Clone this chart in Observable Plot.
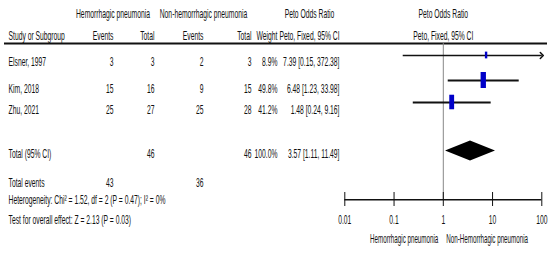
<!DOCTYPE html>
<html>
<head>
<meta charset="utf-8">
<script src="https://cdn.jsdelivr.net/npm/d3@7"></script>
<script src="https://cdn.jsdelivr.net/npm/@observablehq/plot@0.6"></script>
<style>
  html, body { margin: 0; padding: 0; background: #fff; }
  #chart { width: 550px; height: 253px; }
</style>
</head>
<body>
<div id="chart"></div>
<script>
// ---------- data ----------
const studies   = ["Elsner, 1997", "Kim, 2018", "Zhu, 2021"];
const hemEvents = [3, 15, 25];
const hemTotal  = [3, 16, 27];
const nonEvents = [2, 9, 25];
const nonTotal  = [3, 15, 28];
const weights   = [8.9, 49.8, 41.2];
const orEst     = [7.39, 6.48, 1.48];
const orLow     = [0.15, 1.23, 0.24];
const orHigh    = [372.38, 33.98, 9.16];

const totalLabel   = "Total (95% CI)";
const totalHem     = 46;
const totalNon     = 46;
const totalWeight  = 100.0;
const totalOR      = [3.57];
const totalLow     = [1.11];
const totalHigh    = [11.49];
const eventsLabel  = "Total events";
const eventsHem    = 43;
const eventsNon    = 36;
const heterogeneity = "Heterogeneity: Chi² = 1.52, df = 2 (P = 0.47); I² = 0%";
const overallEffect = "Test for overall effect: Z = 2.13 (P = 0.03)";

const groupHeaders = ["Hemorrhagic pneumonia", "Non-hemorrhagic pneumonia"];
const colHeaders   = ["Study or Subgroup", "Events", "Total", "Events", "Total", "Weight"];
const effectTitle  = "Peto Odds Ratio";
const effectSub    = "Peto, Fixed, 95% CI";
const tickValues   = [0.01, 0.1, 1, 10, 100];
const tickLabels   = ["0.01", "0.1", "1", "10", "100"];
const favourLabels = ["Hemorrhagic pneumonia", "Non-Hemorrhagic pneumonia"];

// ---------- layout (pixels) ----------
const COL = {study: 8, hemEv: 113, hemTot: 154, nonEv: 203, nonTot: 251, weight: 277, ci: 339,
             group1: 112.5, group2: 203, peto: 309};
const ROW = {h1: 13, h2: 35, rule: 43, text: [61, 88, 109], line: [55, 80, 102],
             total: 153, diamond: 150.5, events: 182.5, het: 199.5, test: 219,
             axis: 199.3, tickTop: 192, tickBot: 206, tickLabel: 219.5, favour: 238.5};
const SQUEEZE = 0.52;
const INK = "#111";

const idx = studies.map((_, i) => i);
const fmt2 = v => v.toFixed(2);
const ciText = (e, l, h) => `${fmt2(e)} [${fmt2(l)}, ${fmt2(h)}]`;

function col(dx, y, text, anchor, extra = {}) {
  return Plot.text(Array.isArray(y) ? idx : [0], {
    y: Array.isArray(y) ? (i => y[i]) : (() => y),
    text: Array.isArray(y) ? (i => text[i]) : (() => text),
    frameAnchor: "left", dx, textAnchor: anchor, fill: INK, ...extra
  });
}

const diamond = [
  {y: ROW.diamond - 10, x1: totalOR[0], x2: totalOR[0]},
  {y: ROW.diamond,      x1: totalLow[0], x2: totalHigh[0]},
  {y: ROW.diamond + 10, x1: totalOR[0], x2: totalOR[0]}
];

const boxH = i => 16 * Math.sqrt(weights[i] / 49.8);

const chart = Plot.plot({
  width: 550, height: 253, margin: 0,
  x: {type: "log", domain: [0.01, 100], range: [344.3, 541.3], clamp: true, axis: null},
  y: {type: "linear", domain: [0, 253], range: [0, 253], axis: null},
  style: {fontFamily: "'Liberation Sans', Arial, sans-serif", fontSize: "13px", color: INK, background: "#fff"},
  marks: [
    // headers
    col(COL.group1, ROW.h1, groupHeaders[0], "middle"),
    col(COL.group2, ROW.h1, groupHeaders[1], "middle"),
    col(COL.peto, ROW.h1, effectTitle, "middle"),
    Plot.text([1], {x: d => d, y: () => ROW.h1, text: () => effectTitle, fill: INK}),
    col(COL.study, ROW.h2, colHeaders[0], "start"),
    col(COL.hemEv, ROW.h2, colHeaders[1], "end"),
    col(COL.hemTot, ROW.h2, colHeaders[2], "end"),
    col(COL.nonEv, ROW.h2, colHeaders[3], "end"),
    col(COL.nonTot, ROW.h2, colHeaders[4], "end"),
    col(COL.weight, ROW.h2, colHeaders[5], "end"),
    col(COL.peto, ROW.h2, effectSub, "middle"),
    Plot.text([1], {x: d => d, y: () => ROW.h2, text: () => effectSub, fill: INK}),
    Plot.ruleY([ROW.rule], {y: d => d, insetLeft: 4, insetRight: 3, strokeWidth: 2, stroke: "#111"}),

    // study rows
    col(COL.study, ROW.text, studies, "start"),
    col(COL.hemEv, ROW.text, hemEvents.map(String), "end"),
    col(COL.hemTot, ROW.text, hemTotal.map(String), "end"),
    col(COL.nonEv, ROW.text, nonEvents.map(String), "end"),
    col(COL.nonTot, ROW.text, nonTotal.map(String), "end"),
    col(COL.weight, ROW.text, weights.map(w => w.toFixed(1) + "%"), "end"),
    col(COL.ci, ROW.text, idx.map(i => ciText(orEst[i], orLow[i], orHigh[i])), "end"),

    // totals
    col(COL.study, ROW.total, totalLabel, "start"),
    col(COL.hemTot, ROW.total, String(totalHem), "end"),
    col(COL.nonTot, ROW.total, String(totalNon), "end"),
    col(COL.weight, ROW.total, totalWeight.toFixed(1) + "%", "end"),
    col(COL.ci, ROW.total, ciText(totalOR[0], totalLow[0], totalHigh[0]), "end"),
    col(COL.study, ROW.events, eventsLabel, "start"),
    col(COL.hemEv, ROW.events, String(eventsHem), "end"),
    col(COL.nonEv, ROW.events, String(eventsNon), "end"),
    col(COL.study, ROW.het, heterogeneity, "start"),
    col(COL.study, ROW.test, overallEffect, "start"),

    // forest plot
    Plot.ruleX([1], {x: d => d, y1: ROW.rule, y2: ROW.axis, stroke: "#888", strokeWidth: 1}),
    Plot.link(idx.filter(i => orHigh[i] <= 100), {
      x1: i => orLow[i], x2: i => orHigh[i], y1: i => ROW.line[i], y2: i => ROW.line[i],
      stroke: "#111", strokeWidth: 1.8
    }),
    Plot.link(idx.filter(i => orHigh[i] > 100), {
      x1: i => orLow[i], x2: i => orHigh[i], y1: i => ROW.line[i], y2: i => ROW.line[i],
      stroke: "#111", strokeWidth: 1.5, markerEnd: "arrow"
    }),
    Plot.ruleX(idx, {
      x: i => orEst[i], y1: i => ROW.line[i] - boxH(i) / 2, y2: i => ROW.line[i] + boxH(i) / 2,
      strokeWidth: i => Math.max(boxH(i) / 3, 2.4), stroke: "#0000c8"
    }),
    Plot.areaX(diamond, {y: "y", x1: "x1", x2: "x2", fill: "#000", curve: "linear"}),

    // axis
    Plot.ruleY([ROW.axis], {y: d => d, x1: tickValues[0], x2: tickValues[tickValues.length - 1], stroke: "#111", strokeWidth: 1.6}),
    Plot.ruleX(tickValues, {x: d => d, y1: ROW.tickTop, y2: ROW.tickBot, stroke: "#111", strokeWidth: 1}),
    Plot.text(tickValues, {x: d => d, y: () => ROW.tickLabel, text: (d, i) => tickLabels[i], fill: INK}),
    Plot.text([1], {x: d => d, y: () => ROW.favour, text: () => favourLabels[0], textAnchor: "end", dx: -5, fontSize: 12, fill: INK}),
    Plot.text([1], {x: d => d, y: () => ROW.favour, text: () => favourLabels[1], textAnchor: "start", dx: 3, fontSize: 12, fill: INK})
  ]
});

// horizontally condense every label (the reference uses a very narrow face)
chart.querySelectorAll("text").forEach(t => {
  const tr = t.getAttribute("transform") || "";
  const x = t.getAttribute("x"), y = t.getAttribute("y");
  if (!tr && (x || y)) {
    t.setAttribute("transform", `translate(${x || 0},${y || 0}) scale(${SQUEEZE},1)`);
    t.removeAttribute("x"); t.removeAttribute("y");
  } else {
    t.setAttribute("transform", `${tr} scale(${SQUEEZE},1)`);
  }
});

document.getElementById("chart").appendChild(chart);
</script>
</body>
</html>
